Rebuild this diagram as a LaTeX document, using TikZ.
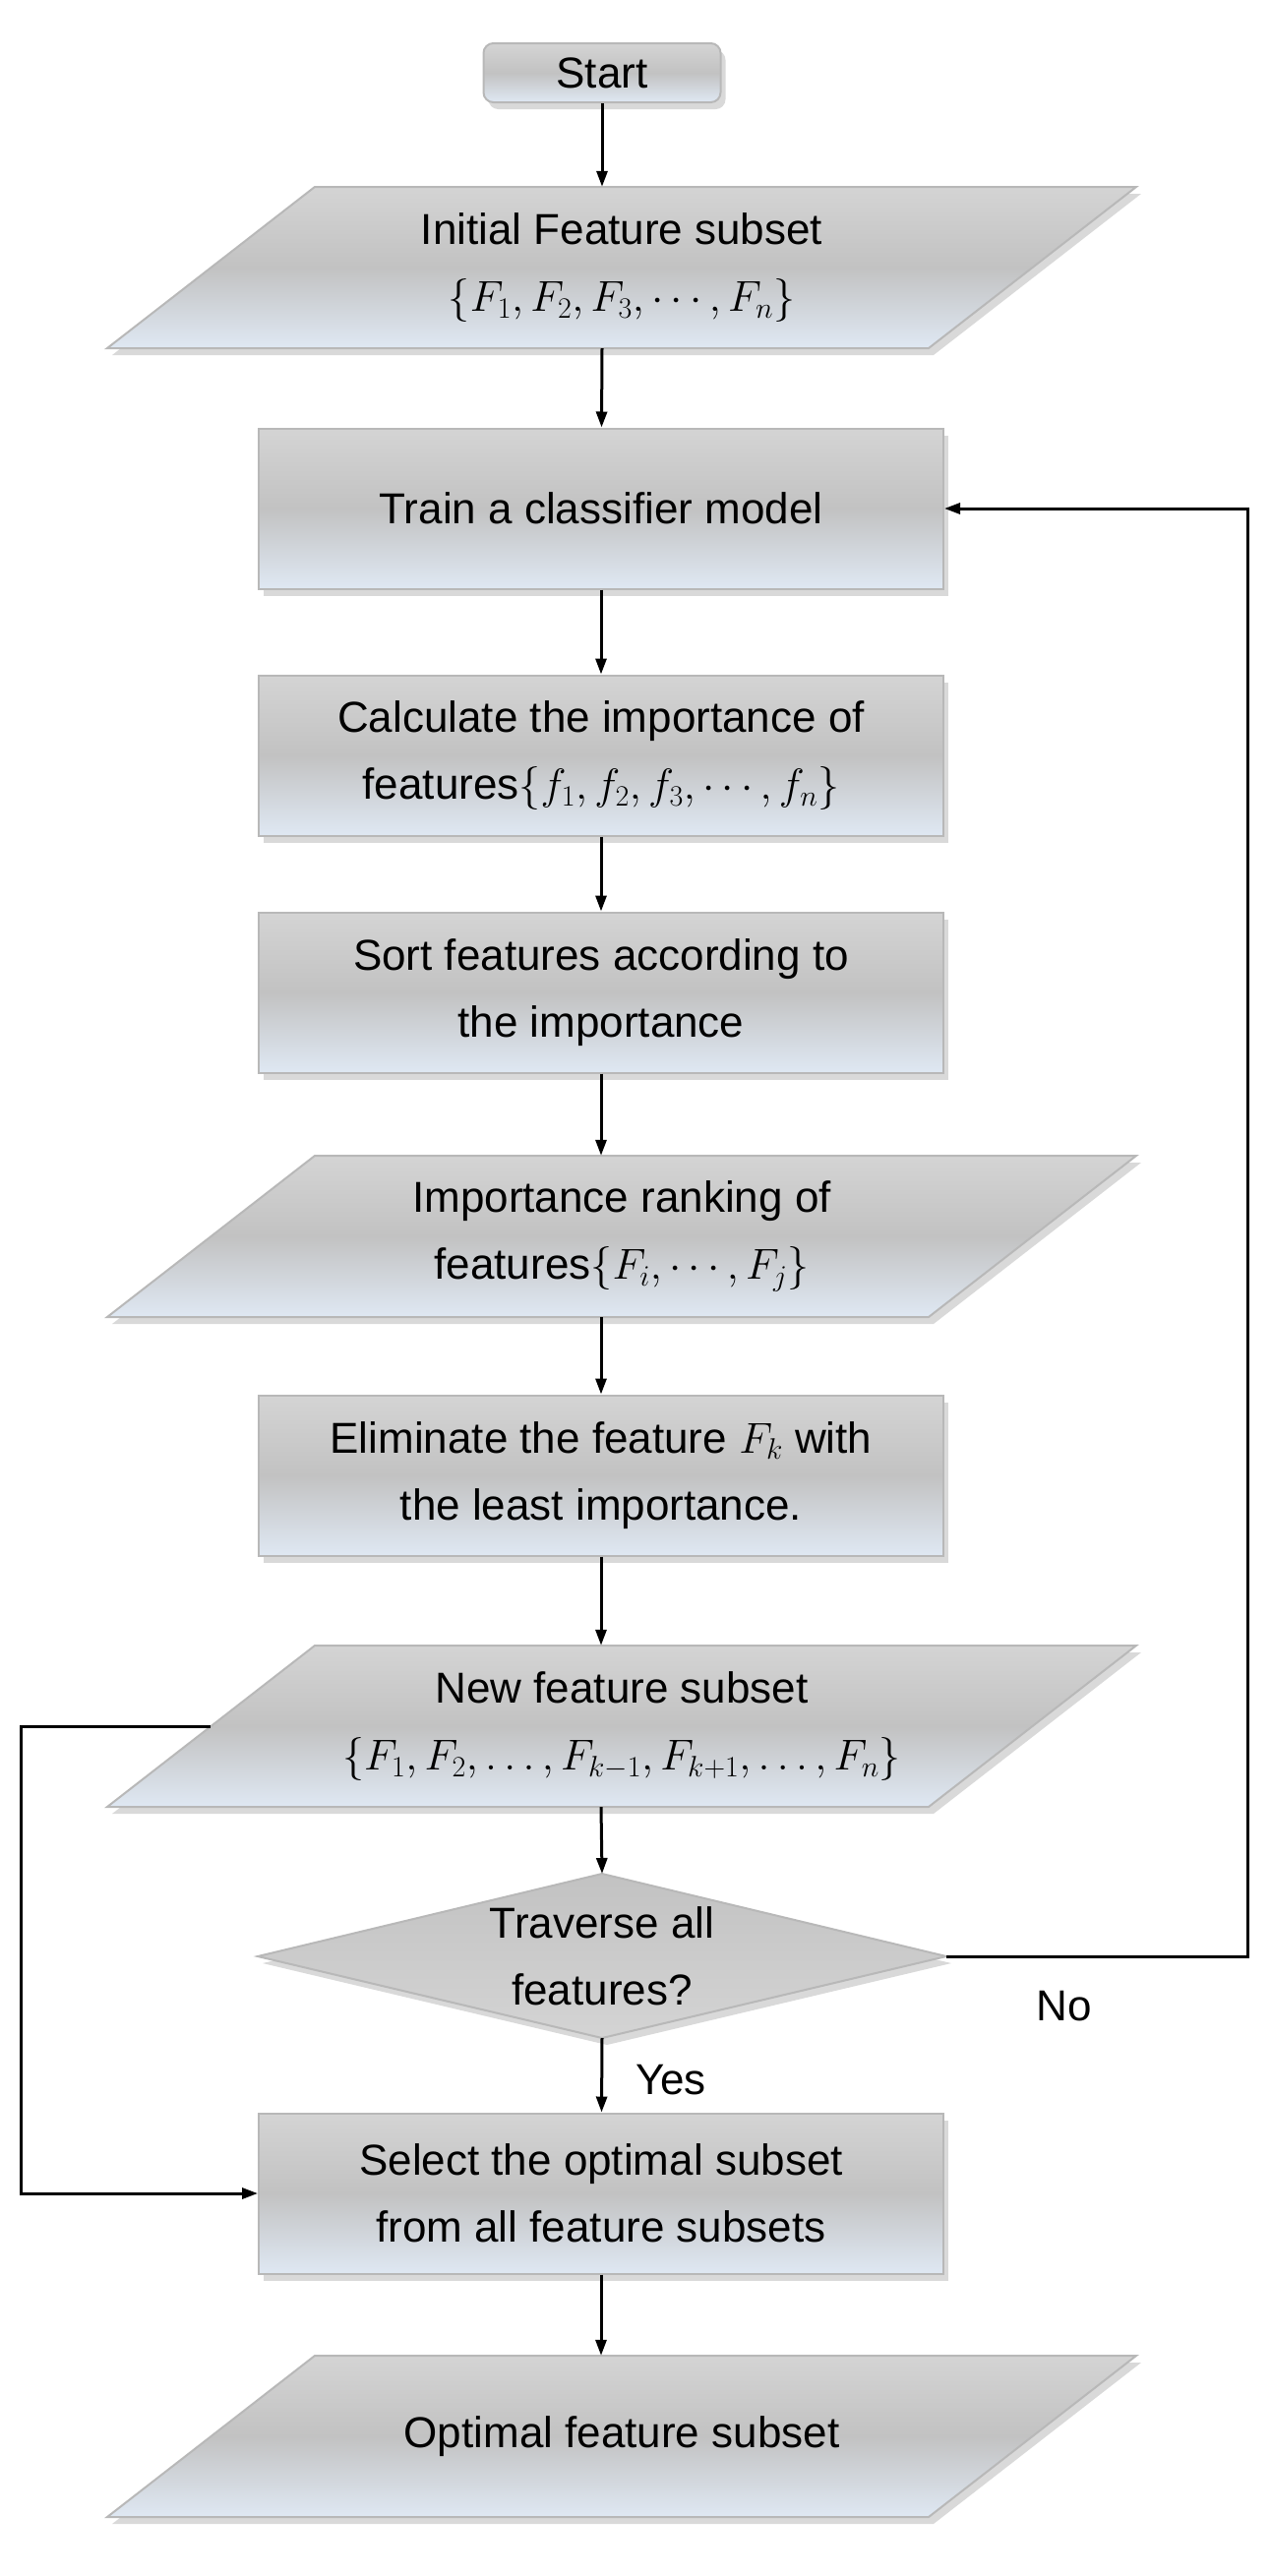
\documentclass[tikz,border=0pt]{standalone}
\usepackage{fix-cm}
\usepackage{fontspec}
\setmainfont{Liberation Sans}
\DeclareMathSizes{44}{44}{30}{24}
\usetikzlibrary{shadows,arrows.meta,calc}
\definecolor{bord}{HTML}{B8B8B8}
\definecolor{gtop}{HTML}{D4D4D4}
\definecolor{gmid}{HTML}{C2C2C2}
\definecolor{gbot}{HTML}{DFE8F3}
\tikzset{
  fillsty/.style={draw=bord,line width=2pt,top color=gtop,bottom color=gbot,middle color=gmid,
    drop shadow={opacity=0.3,shadow xshift=5pt,shadow yshift=-7pt}},
  box/.style={fillsty,minimum width=696pt,minimum height=163pt,align=center,inner sep=0pt},
  txt/.style={align=center,inner sep=0pt},
  arr/.style={line width=3pt,-{Triangle[length=16pt,width=11pt]}},
  ln/.style={line width=3pt},
  lab/.style={inner sep=0pt},
}
\newcommand\mypara[3]{%
  \path[fillsty] ({632-312},{#2+82}) -- ({632+523},{#2+82}) -- ({632+312},{#2-82}) -- ({632-523},{#2-82}) -- cycle;
  \node[txt,minimum width=836pt,minimum height=164pt] (#1) at (632,#2) {#3};}
\begin{document}
\fontsize{44}{68}\selectfont
\begin{tikzpicture}[x=1pt,y=1pt]
\useasboundingbox (0,0) rectangle (1291,-2619);
\node[fillsty,rounded corners=10pt,minimum width=241pt,minimum height=60pt,inner sep=0pt] (start) at (612,-74) {Start};
\mypara{p1}{-272}{Initial Feature subset\\$\{F_1,F_2,F_3,\cdots,F_n\}$}
\node[box] (train) at (611,-517) {Train a classifier model};
\node[box] (calc) at (611,-768) {Calculate the importance of\\features$\{f_1,f_2,f_3,\cdots,f_n\}$};
\node[box] (sort) at (611,-1009) {Sort features according to\\the importance};
\mypara{p2}{-1257}{Importance ranking of\\features$\{F_i,\cdots,F_j\}$}
\node[box] (elim) at (611,-1500) {Eliminate the feature $F_k$ with\\the least importance.};
\mypara{p3}{-1755}{New feature subset\\$\{F_1,F_2,\ldots,F_{k-1},F_{k+1},\ldots,F_n\}$}
\coordinate (dT) at (612,-1905);
\coordinate (dB) at (612,-2072);
\coordinate (dL) at (262,-1989);
\coordinate (dR) at (962,-1989);
\path[draw=bord,line width=2pt,top color=gmid,bottom color=gtop,
  drop shadow={opacity=0.3,shadow xshift=5pt,shadow yshift=-7pt}] (dT) -- (dR) -- (dB) -- (dL) -- cycle;
\node[txt] (dec) at (612,-1989) {Traverse all\\features?};
\node[box] (sel) at (611,-2230) {Select the optimal subset\\from all feature subsets};
\mypara{p4}{-2477}{Optimal feature subset}
\coordinate (rx) at (1268,-1989);
\coordinate (lx) at (21,-1755);
\draw[arr] (start) -- (start |- p1.north);
\draw[arr] (start |- p1.south) -- (train);
\draw[arr] (train) -- (calc);
\draw[arr] (calc) -- (sort);
\draw[arr] (sort) -- (sort |- p2.north);
\draw[arr] (sort |- p2.south) -- (elim);
\draw[arr] (elim) -- (elim |- p3.north);
\draw[arr] (elim |- p3.south) -- (dT);
\draw[arr] (dB) -- (sel);
\draw[arr] (sel) -- (sel |- p4.north);
\draw[arr] (dR) -- (rx) |- (train.east);
\draw[arr] (p3.west) -- (lx) |- (sel.west);
\node[lab] (no) at (1082,-2040) {No};
\node[lab] (yes) at (682,-2115) {Yes};
\end{tikzpicture}
\end{document}
